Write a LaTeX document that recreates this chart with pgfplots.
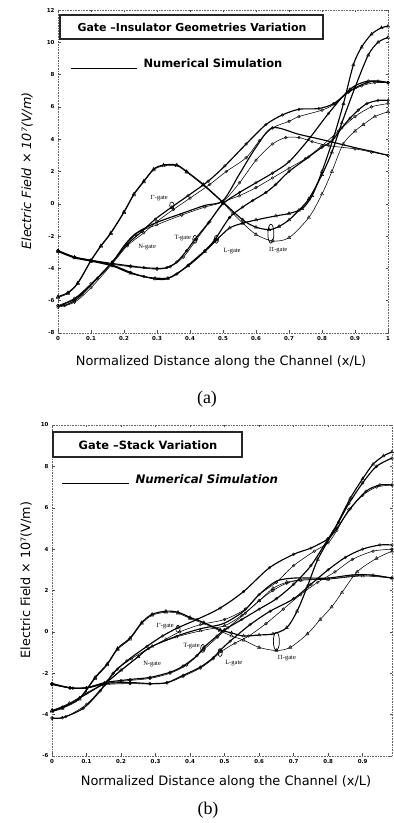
\documentclass[border=0pt]{standalone}
\usepackage{pgfplots}
\pgfplotsset{compat=1.18}
\usepackage{fontspec}
\setmainfont{Liberation Serif}
\newfontfamily\dvs{DejaVu Sans}
\tikzset{glab/.style={font=\fontsize{6.5}{7.5}\selectfont, inner sep=0.5pt}}
\begin{document}
\begin{tikzpicture}[x=1bp,y=1bp]
\useasboundingbox (0,0) rectangle (393,823);
\pgfplotsset{
 myax/.style={scale only axis, axis line style={black!60, densely dotted, line width=0.6pt},
   tick style={black!70, line width=0.4pt, solid}, major tick length=2.5bp,
   tick label style={font=\dvs\bfseries\fontsize{5.5}{6.5}\selectfont},
   /pgf/number format/assume math mode=true,
   every axis plot/.append style={black, smooth, tension=0.5}},
 tri/.style={line width=0.55pt, mark=triangle, mark size=1.9pt, mark options={solid, line width=0.4pt}},
 trk/.style={line width=1.15pt, mark=triangle, mark size=1.9pt, mark options={solid, line width=0.4pt}},
 cir/.style={line width=0.55pt, mark=o, mark size=1.4pt, mark options={solid, line width=0.4pt}},
 thk/.style={line width=1.15pt, mark=o, mark size=1.4pt, mark options={solid, line width=0.4pt}},
}
% ---------------- panel (a)
\begin{axis}[myax, at={(58bp,490bp)}, anchor=south west, width=330bp, height=323bp,
  xmin=0, xmax=1, ymin=-8, ymax=12,
  xtick={0,0.1,0.2,0.3,0.4,0.5,0.6,0.7,0.8,0.9,1},
  xticklabels={0,0.1,0.2,0.3,0.4,0.5,0.6,0.7,0.8,0.9,1},
  ytick={-8,-6,-4,-2,0,2,4,6,8,10,12}]
\addplot[trk] coordinates {(0,-5.75)(0.03,-5.5)(0.06,-4.9)(0.1,-3.5)(0.13,-2.6)(0.16,-1.8)(0.2,-0.5)(0.23,0.6)(0.26,1.4)(0.29,2.15)(0.32,2.4)(0.36,2.4)(0.39,2.0)(0.44,1.2)(0.5,0.1)(0.56,-1.0)(0.6,-1.45)(0.64,-1.6)(0.67,-1.4)(0.7,-1.0)(0.73,-0.4)(0.76,0.3)(0.8,1.8)(0.83,3.2)(0.86,5.0)(0.9,7.2)(0.94,9.2)(0.97,10.0)(1,10.3)};
\addplot[tri] coordinates {(0,-5.8)(0.03,-5.55)(0.06,-4.95)(0.1,-3.55)(0.13,-2.65)(0.16,-1.85)(0.2,-0.55)(0.23,0.55)(0.26,1.35)(0.29,2.1)(0.32,2.35)(0.36,2.35)(0.39,1.95)(0.44,1.15)(0.5,0.05)(0.53,-0.6)(0.56,-1.2)(0.6,-1.9)(0.65,-2.3)(0.7,-2.1)(0.76,-0.85)(0.8,0.6)(0.83,2.0)(0.864,3.7)(0.9,4.5)(0.925,4.9)(0.96,5.4)(1,5.7)};
\addplot[thk] coordinates {(0,-2.9)(0.05,-3.3)(0.1,-3.5)(0.165,-3.7)(0.22,-3.85)(0.26,-3.95)(0.3,-4.0)(0.33,-3.95)(0.36,-3.6)(0.39,-2.9)(0.415,-2.2)(0.455,-1.2)(0.5,0.0)(0.55,0.7)(0.6,1.3)(0.65,1.9)(0.7,2.6)(0.76,4.0)(0.82,5.6)(0.885,7.1)(0.94,7.6)(1,7.5)};
\addplot[cir] coordinates {(0,-2.95)(0.05,-3.3)(0.1,-3.55)(0.165,-3.75)(0.22,-3.9)(0.3,-4.05)(0.34,-3.9)(0.38,-3.3)(0.42,-2.2)(0.46,-1.1)(0.5,0.05)(0.55,0.5)(0.6,1.0)(0.65,1.6)(0.7,2.2)(0.75,2.8)(0.8,3.6)(0.85,4.5)(0.9,5.4)(0.95,6.0)(1,6.2)};
\addplot[thk] coordinates {(0,-2.9)(0.05,-3.3)(0.1,-3.5)(0.165,-3.8)(0.22,-4.25)(0.26,-4.5)(0.294,-4.6)(0.333,-4.6)(0.36,-4.35)(0.394,-3.8)(0.445,-2.9)(0.476,-2.2)(0.52,-0.85)(0.56,-0.2)(0.59,0.2)(0.63,0.7)(0.66,1.2)(0.7,2.0)(0.76,2.9)(0.8,3.5)(0.83,3.9)(0.86,4.7)(0.885,5.3)(0.91,5.8)(0.936,6.2)(0.97,6.4)(1,6.4)};
\addplot[thk, mark=triangle, mark size=1.9pt] coordinates {(0,-2.95)(0.05,-3.35)(0.1,-3.55)(0.165,-3.85)(0.22,-4.3)(0.294,-4.65)(0.333,-4.62)(0.394,-3.85)(0.445,-2.95)(0.48,-2.25)(0.52,-1.5)(0.56,-1.2)(0.6,-1.0)(0.66,-0.75)(0.7,-0.6)(0.74,-0.3)(0.77,0.5)(0.8,2.0)(0.835,4.1)(0.865,6.2)(0.895,8.6)(0.92,9.7)(0.95,10.5)(0.98,10.9)(1,11.0)};
\addplot[thk] coordinates {(0,-6.3)(0.02,-6.3)(0.05,-6.0)(0.073,-5.6)(0.12,-4.6)(0.165,-3.6)(0.21,-2.5)(0.255,-1.7)(0.295,-0.95)(0.345,-0.2)(0.394,0.5)(0.455,1.4)(0.506,2.35)(0.57,3.7)(0.63,4.9)(0.68,5.5)(0.73,5.85)(0.79,5.9)(0.835,6.2)(0.885,7.0)(0.936,7.5)(0.97,7.6)(1,7.5)};
\addplot[cir] coordinates {(0,-6.4)(0.05,-6.1)(0.1,-5.2)(0.165,-3.7)(0.21,-2.6)(0.26,-1.8)(0.3,-1.1)(0.35,-0.35)(0.4,0.35)(0.46,1.2)(0.51,2.0)(0.57,2.85)(0.61,3.9)(0.65,4.7)(0.7,5.1)(0.73,5.4)(0.8,5.8)(0.84,6.2)(0.88,6.9)(0.92,7.3)(0.96,7.5)(1,7.5)};
\addplot[thk, mark=none] coordinates {(0,-6.35)(0.05,-5.9)(0.1,-5.0)(0.165,-3.6)(0.2,-2.6)(0.235,-1.85)(0.294,-1.2)(0.375,-0.6)(0.445,-0.1)(0.5,0.2)(0.55,1.85)(0.6,3.5)(0.65,4.7)(0.73,4.3)(0.815,3.9)(0.895,3.5)(0.95,3.25)(1,3.0)};
\addplot[cir] coordinates {(0,-6.3)(0.05,-5.85)(0.1,-4.95)(0.165,-3.6)(0.235,-1.9)(0.3,-1.3)(0.375,-0.7)(0.445,-0.2)(0.5,0.15)(0.55,1.3)(0.6,2.7)(0.65,3.7)(0.69,4.1)(0.73,4.1)(0.77,3.85)(0.82,3.6)(0.9,3.4)(0.95,3.2)(1,3.0)};
\node[glab, anchor=east] at (axis cs:0.335,0.35) {$\Gamma$-gate};
\draw[line width=0.6pt] (axis cs:0.345,-0.1) ellipse [x radius=2.2bp, y radius=3.5bp];
\node[glab, anchor=east] at (axis cs:0.405,-2.1) {T-gate};
\draw[line width=0.6pt] (axis cs:0.415,-2.2) ellipse [x radius=2.2bp, y radius=4bp];
\node[glab] at (axis cs:0.27,-2.65) {N-gate};
\node[glab, anchor=west] at (axis cs:0.5,-2.9) {L-gate};
\draw[line width=0.6pt] (axis cs:0.48,-2.2) ellipse [x radius=2.2bp, y radius=4bp];
\node[glab] at (axis cs:0.667,-2.85) {$\Pi$-gate};
\draw[line width=0.7pt] (axis cs:0.645,-1.85) ellipse [x radius=3bp, y radius=9.5bp];
\end{axis}
% ---------------- panel (b)
\begin{axis}[myax, at={(52bp,67bp)}, anchor=south west, width=340bp, height=331bp,
  xmin=0, xmax=0.985, ymin=-6, ymax=10,
  xtick={0,0.1,0.2,0.3,0.4,0.5,0.6,0.7,0.8,0.9},
  xticklabels={0,0.1,0.2,0.3,0.4,0.5,0.6,0.7,0.8,0.9},
  ytick={-6,-4,-2,0,2,4,6,8,10}]
\addplot[trk] coordinates {(0,-3.8)(0.03,-3.65)(0.08,-3.2)(0.125,-2.2)(0.16,-1.55)(0.19,-0.8)(0.226,-0.3)(0.26,0.45)(0.29,0.85)(0.33,1.0)(0.365,0.95)(0.4,0.7)(0.44,0.45)(0.487,0.1)(0.52,-0.05)(0.555,-0.2)(0.6,-0.15)(0.64,-0.1)(0.68,0.2)(0.71,1.0)(0.74,2.2)(0.77,3.5)(0.815,4.85)(0.864,6.45)(0.9,7.4)(0.93,8.1)(0.96,8.5)(0.985,8.7)};
\addplot[tri] coordinates {(0,-3.85)(0.03,-3.7)(0.08,-3.25)(0.125,-2.25)(0.16,-1.6)(0.19,-0.85)(0.226,-0.35)(0.26,0.4)(0.29,0.8)(0.33,0.95)(0.365,0.9)(0.4,0.65)(0.44,0.4)(0.487,0.05)(0.52,-0.2)(0.555,-0.4)(0.6,-0.75)(0.65,-0.9)(0.69,-0.75)(0.74,-0.1)(0.777,0.6)(0.81,1.2)(0.84,1.9)(0.884,2.9)(0.94,3.55)(0.985,3.9)};
\addplot[thk] coordinates {(0,-2.5)(0.052,-2.7)(0.1,-2.7)(0.153,-2.45)(0.2,-2.35)(0.226,-2.3)(0.284,-2.2)(0.342,-1.95)(0.38,-1.65)(0.42,-1.15)(0.44,-0.75)(0.478,-0.2)(0.5,0.1)(0.55,0.6)(0.6,1.1)(0.65,1.6)(0.7,2.3)(0.75,3.2)(0.8,4.5)(0.83,5.3)(0.86,6.2)(0.9,7.2)(0.94,8.0)(0.985,8.4)};
\addplot[cir] coordinates {(0,-2.55)(0.052,-2.72)(0.1,-2.72)(0.153,-2.5)(0.226,-2.35)(0.284,-2.25)(0.342,-2.0)(0.39,-1.6)(0.44,-0.85)(0.48,-0.25)(0.51,0.2)(0.56,0.9)(0.6,1.5)(0.64,2.0)(0.68,2.35)(0.72,2.5)(0.8,2.55)(0.87,2.7)(0.93,2.75)(0.985,2.6)};
\addplot[thk] coordinates {(0,-2.5)(0.052,-2.7)(0.1,-2.7)(0.153,-2.5)(0.226,-2.45)(0.284,-2.5)(0.333,-2.45)(0.38,-2.1)(0.43,-1.7)(0.467,-1.25)(0.487,-0.9)(0.516,-0.45)(0.574,0.35)(0.632,1.0)(0.7,1.6)(0.75,2.3)(0.8,3.0)(0.85,3.6)(0.9,4.0)(0.95,4.2)(0.985,4.2)};
\addplot[cir] coordinates {(0,-2.55)(0.06,-2.72)(0.1,-2.72)(0.153,-2.55)(0.226,-2.5)(0.284,-2.52)(0.333,-2.47)(0.38,-2.15)(0.43,-1.75)(0.467,-1.3)(0.49,-0.95)(0.53,-0.55)(0.57,-0.2)(0.62,0.4)(0.67,1.1)(0.72,1.8)(0.77,2.4)(0.82,2.9)(0.87,3.5)(0.93,3.9)(0.985,4.0)};
\addplot[thk] coordinates {(0,-4.15)(0.03,-4.15)(0.09,-3.7)(0.14,-2.85)(0.177,-2.0)(0.217,-1.4)(0.275,-0.7)(0.32,-0.2)(0.365,0.2)(0.42,0.6)(0.487,1.15)(0.555,1.95)(0.63,3.1)(0.7,3.75)(0.75,4.05)(0.8,4.5)(0.825,5.0)(0.864,5.95)(0.91,6.8)(0.95,7.1)(0.985,7.1)};
\addplot[cir] coordinates {(0,-4.2)(0.04,-4.1)(0.1,-3.5)(0.15,-2.6)(0.19,-1.8)(0.23,-1.3)(0.28,-0.8)(0.33,-0.35)(0.37,0.0)(0.43,0.35)(0.5,0.6)(0.56,1.1)(0.6,1.8)(0.65,2.4)(0.7,3.2)(0.76,3.9)(0.8,4.3)(0.825,4.9)(0.86,5.9)(0.9,6.6)(0.94,7.0)(0.985,7.1)};
\addplot[thk, mark=none] coordinates {(0,-3.85)(0.05,-3.5)(0.1,-3.0)(0.16,-2.4)(0.197,-1.9)(0.246,-1.25)(0.284,-0.75)(0.362,-0.2)(0.43,0.15)(0.496,0.4)(0.555,1.0)(0.6,1.8)(0.65,2.45)(0.7,2.6)(0.75,2.6)(0.8,2.6)(0.87,2.75)(0.92,2.75)(0.985,2.6)};
\addplot[tri] coordinates {(0,-3.8)(0.05,-3.45)(0.1,-2.95)(0.16,-2.4)(0.2,-1.85)(0.25,-1.2)(0.29,-0.7)(0.36,-0.25)(0.43,0.05)(0.5,0.3)(0.55,0.8)(0.6,1.5)(0.64,2.1)(0.68,2.4)(0.72,2.5)(0.8,2.55)(0.9,2.7)(0.985,2.6)};
\node[glab, anchor=east] at (axis cs:0.355,0.3) {$\Gamma$-gate};
\draw[line width=0.6pt] (axis cs:0.365,0.15) ellipse [x radius=2.2bp, y radius=3.5bp];
\node[glab, anchor=east] at (axis cs:0.43,-0.7) {T-gate};
\draw[line width=0.6pt] (axis cs:0.437,-0.8) ellipse [x radius=2.2bp, y radius=4bp];
\node[glab] at (axis cs:0.29,-1.55) {N-gate};
\node[glab, anchor=west] at (axis cs:0.5,-1.5) {L-gate};
\draw[line width=0.6pt] (axis cs:0.487,-1.0) ellipse [x radius=2.2bp, y radius=4bp];
\node[glab] at (axis cs:0.68,-1.25) {$\Pi$-gate};
\draw[line width=0.7pt] (axis cs:0.65,-0.45) ellipse [x radius=3bp, y radius=9bp];
\end{axis}
% ---------------- text outside / boxes
\draw[line width=1.1pt, black!85, fill=white] (60,784) rectangle (323,808);
\node[font=\dvs\bfseries\fontsize{11}{13}\selectfont] at (192,796) {Gate –Insulator Geometries Variation};
\draw[line width=0.8pt] (71,755) -- (137,755);
\node[font=\dvs\bfseries\fontsize{11.5}{13}\selectfont, anchor=west] at (140,760) {Numerical Simulation};
\node[font=\dvs\itshape\fontsize{12.8}{14}\selectfont, rotate=90] at (27,652) {Electric Field × 10⁷(V/m)};
\node[font=\dvs\fontsize{13}{15}\selectfont] at (221,461) {Normalized Distance along the Channel (x/L)};
\node[font=\fontsize{18}{20}\selectfont] at (207,424) {(a)};
\draw[line width=1.1pt, black!85, fill=white] (53,366) rectangle (242,391);
\node[font=\dvs\bfseries\fontsize{11.5}{13}\selectfont] at (148,378) {Gate –Stack Variation};
\draw[line width=0.8pt] (62,340) -- (129,340);
\node[font=\dvs\bfseries\itshape\fontsize{11.8}{13}\selectfont, anchor=west] at (132,344) {Numerical Simulation};
\node[font=\dvs\fontsize{12.8}{14}\selectfont, rotate=90] at (26,243) {Electric Field × 10⁷(V/m)};
\node[font=\dvs\fontsize{13}{15}\selectfont] at (226,41) {Normalized Distance along the Channel (x/L)};
\node[font=\fontsize{18}{20}\selectfont] at (208,13) {(b)};
\end{tikzpicture}
\end{document}
